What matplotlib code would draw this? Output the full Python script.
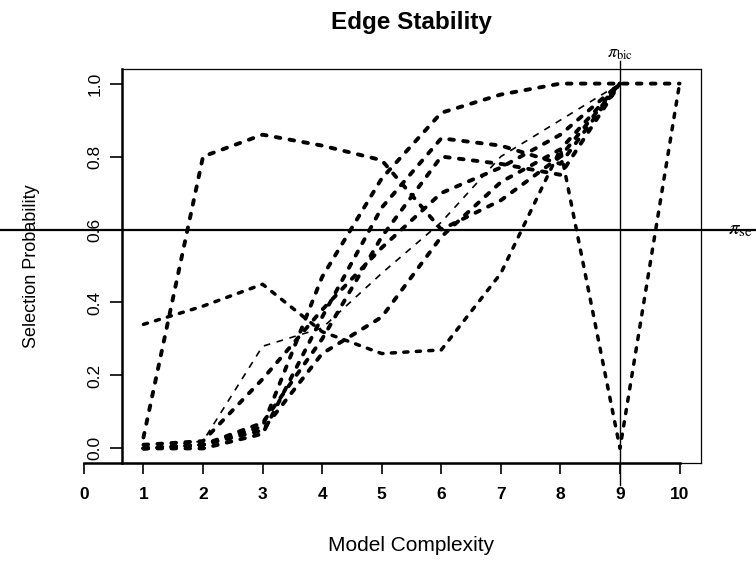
import matplotlib.pyplot as plt

plt.rcParams['font.family'] = ['Liberation Sans', 'DejaVu Sans']
plt.rcParams['mathtext.fontset'] = 'stix'

# model complexity steps
steps9 = [1, 2, 3, 4, 5, 6, 7, 8, 9]
steps10 = [1, 2, 3, 4, 5, 6, 7, 8, 9, 10]

# selection probability of each edge along the path
edge_a = [0.03, 0.80, 0.86, 0.83, 0.79, 0.60, 0.68, 0.80, 1.00]
edge_b = [0.34, 0.39, 0.45, 0.32, 0.26, 0.27, 0.48, 0.82, 0.00, 1.00]
edge_c = [0.00, 0.01, 0.06, 0.47, 0.74, 0.92, 0.97, 1.00, 1.00, 1.00]
edge_d = [0.00, 0.00, 0.04, 0.36, 0.66, 0.85, 0.83, 0.78, 1.00]
edge_e = [0.00, 0.01, 0.07, 0.30, 0.58, 0.80, 0.78, 0.75, 1.00]
edge_f = [0.00, 0.02, 0.28, 0.33, 0.48, 0.62, 0.80, 0.90, 1.00]
edge_g = [0.01, 0.02, 0.19, 0.38, 0.55, 0.70, 0.77, 0.86, 1.00]
edge_h = [0.00, 0.01, 0.05, 0.26, 0.36, 0.58, 0.73, 0.82, 1.00]

pi_se = 0.6
pi_bic = 9
xticks = list(range(0, 11))
yticks = [0.0, 0.2, 0.4, 0.6, 0.8, 1.0]

fig = plt.figure(figsize=(7.56, 5.61), dpi=100)
ax = fig.add_axes([122 / 756, 1 - 463 / 561, 579 / 756, 394 / 561])

dash = (0, (1.2, 2.4))
for ys in [edge_a, edge_d, edge_e, edge_g, edge_h]:
    ax.plot(steps9, ys, color='black', lw=2.8, linestyle=dash, dash_capstyle='round')
ax.plot(steps10, edge_c, color='black', lw=2.8, linestyle=dash, dash_capstyle='round')
ax.plot(steps10, edge_b, color='black', lw=2.5, linestyle=dash, dash_capstyle='round')
ax.plot(steps9, edge_f, color='black', lw=1.2, linestyle=(0, (4, 4)))

ax.set_xlim(0.64, 10.36)
ax.set_ylim(-0.04, 1.04)

for s in ax.spines.values():
    s.set_linewidth(0.9)
ax.spines['left'].set_linewidth(1.8)

ax.set_xticks([])
ax.set_yticks(yticks)
ax.set_yticklabels(['%.1f' % v for v in yticks], rotation=90, va='center', fontsize=12.5)
ax.tick_params(axis='y', length=9, width=1.2, pad=5)

# threshold lines
ax.axhline(pi_se, xmin=-0.25, xmax=1.1, color='black', lw=1.6, clip_on=False)
ax.axvline(pi_bic, ymin=-0.056, ymax=1.02, color='black', lw=1.0, clip_on=False)
ax.text(pi_bic, 1.06, r'$\pi_{\mathrm{bic}}$', ha='center', va='bottom', fontsize=13)
ax.text(1.047, pi_se, r'$\pi_{\mathrm{se}}$', transform=ax.get_yaxis_transform(),
        ha='left', va='center', fontsize=15)

ax.set_title('Edge Stability', fontsize=17.5, fontweight='bold', pad=29)
ax.set_ylabel('Selection Probability', fontsize=13)
ax.yaxis.set_label_coords(-0.142, 0.5)
ax.set_xlabel('Model Complexity', fontsize=15)
ax.xaxis.set_label_coords(0.5, -0.185)

# separate x axis running from 0 to 10 like base R axis()
axx = fig.add_axes([83.9 / 756, 1 - 463 / 561, 595.7 / 756, 0.0001])
axx.set_xlim(0, 10)
axx.set_yticks([])
for side in ['top', 'left', 'right']:
    axx.spines[side].set_visible(False)
axx.spines['bottom'].set_linewidth(1.8)
axx.patch.set_visible(False)
axx.set_xticks(xticks)
axx.set_xticklabels([str(v) for v in xticks], fontsize=12.5, fontweight='bold')
axx.tick_params(axis='x', length=8, width=1.2, pad=9)

fig.savefig('out.png', dpi=100)
